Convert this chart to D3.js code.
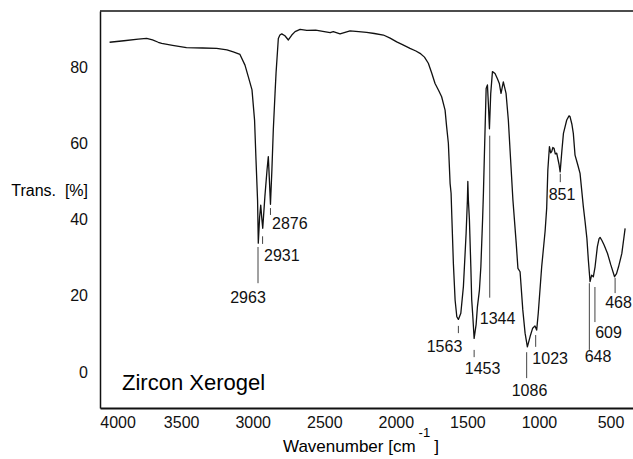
<!DOCTYPE html>
<html>
<head>
<meta charset="utf-8">
<script src="https://cdn.jsdelivr.net/npm/d3@7"></script>
<style>
  body { margin: 0; background: #fff; }
  svg { display: block; font-family: "Liberation Sans", Arial, sans-serif; }
  .axis text { font-size: 16px; fill: #111; }
  .axis path { stroke: #111; }
  .peak text { font-size: 16px; fill: #111; }
</style>
</head>
<body>
<div id="chart"></div>
<script>
// IR spectrum, zircon xerogel
const wavenumbers = [
  4000, 3900, 3800, 3741, 3700, 3660, 3636, 3560, 3463, 3350, 3252, 3180, 3136, 3089, 3054, 3031,
  3005, 2987, 2977, 2966, 2961, 2952, 2944, 2937, 2930, 2915, 2900, 2891, 2883, 2876, 2866, 2856,
  2844, 2837, 2821, 2810, 2797, 2775, 2751, 2727, 2704, 2669, 2622, 2560, 2500, 2459, 2437, 2390,
  2320, 2260, 2204, 2150, 2087, 2040, 1994, 1950, 1901, 1860, 1831, 1800, 1773, 1750, 1726, 1700,
  1680, 1656, 1645, 1633, 1621, 1614, 1609, 1598, 1586, 1574, 1563, 1546, 1528, 1516, 1509, 1500,
  1497, 1493, 1486, 1476, 1470, 1462, 1453, 1439, 1430, 1416, 1406, 1394, 1388, 1381, 1369, 1360,
  1353, 1346, 1337, 1325, 1307, 1291, 1277, 1265, 1249, 1230, 1214, 1198, 1182, 1159, 1147, 1132,
  1113, 1097, 1081, 1062, 1044, 1028, 1016, 1005, 981, 957, 946, 938, 927, 918, 911, 903,
  895, 886, 876, 860, 852, 840, 829, 806, 790, 783, 770, 760, 748, 730, 713, 690,
  678, 665, 655, 643, 632, 620, 608, 592, 580, 573, 560, 545, 521, 498, 472, 458,
  444, 421, 398
];
const transmittance = [
  86.5, 86.9, 87.3, 87.5, 87.1, 86.5, 86.2, 85.7, 85.1, 85.0, 84.9, 84.5, 84.0, 83.3, 80.5, 77.5,
  74.0, 66.0, 55.6, 45.0, 33.8, 40.5, 43.8, 40.5, 37.7, 46.0, 53.0, 56.5, 50.0, 44.0, 53.0, 63.7,
  73.1, 78.4, 87.5, 88.4, 88.7, 88.2, 87.1, 88.4, 89.3, 89.9, 89.6, 89.7, 89.3, 89.0, 89.3, 88.7,
  89.5, 89.3, 89.1, 88.8, 88.4, 87.6, 86.6, 85.8, 84.9, 84.2, 83.6, 82.6, 81.0, 78.5, 75.7, 73.8,
  72.2, 68.7, 64.3, 60.0, 49.5, 46.9, 41.0, 28.5, 18.9, 14.5, 13.8, 15.4, 22.4, 31.2, 36.4, 45.1,
  50.0, 45.0, 40.0, 27.6, 19.0, 14.5, 8.8, 12.5, 17.1, 21.5, 27.6, 39.9, 47.0, 57.4, 74.4, 75.3,
  70.0, 63.8, 73.1, 78.8, 78.3, 77.0, 75.7, 73.1, 76.1, 73.1, 66.1, 55.6, 45.1, 33.8, 27.2, 26.3,
  16.3, 10.2, 6.6, 9.3, 11.5, 12.1, 11.0, 15.4, 27.6, 37.0, 43.0, 53.0, 59.1, 57.5, 57.8, 58.9,
  58.7, 57.2, 57.4, 54.5, 52.5, 58.0, 62.6, 66.1, 67.2, 67.0, 65.0, 62.6, 56.9, 54.5, 52.1, 43.4,
  39.5, 35.0, 29.4, 23.7, 25.4, 25.0, 27.6, 32.9, 35.0, 35.3, 34.5, 33.3, 31.1, 28.1, 25.0, 25.8,
  27.6, 31.1, 37.7
];

const xTicks = [4000, 3500, 3000, 2500, 2000, 1500, 1000, 500];
const yTicks = [0, 20, 40, 60, 80];

// labelled bands
const peakLabels = [2963, 2931, 2876, 1563, 1453, 1344, 1086, 1023, 851, 648, 609, 468];

// annotation layout: marker line from/to (in % T), label anchor (wavenumber, % T baseline)
const peakLayout = [
  { from: 32.8, to: 23.3, tx: 3033, ty: 18.0, anchor: 'middle' },
  { from: 35.6, to: 33.6, tx: 2921, ty: 29.2, anchor: 'start' },
  { from: 43.0, to: 41.2, tx: 2865, ty: 37.4, anchor: 'start' },
  { from: 12.1, to: 10.2, tx: 1660, ty: 5.2, anchor: 'middle' },
  { from: 5.8, to: 3.9, tx: 1394, ty: -0.4, anchor: 'middle' },
  { from: 62.0, to: 19.5, tx: 1289, ty: 12.5, anchor: 'middle' },
  { from: 5.2, to: -1.6, tx: 1066, ty: -6.2, anchor: 'middle' },
  { from: 9.7, to: 6.6, tx: 922, ty: 2.2, anchor: 'middle' },
  { from: 52.0, to: 49.8, tx: 839, ty: 45.0, anchor: 'middle' },
  { from: 23.3, to: 5.8, tx: 587, ty: 2.5, anchor: 'middle' },
  { from: 22.3, to: 13.1, tx: 514, ty: 9.0, anchor: 'middle' },
  { from: 24.7, to: 20.7, tx: 444, ty: 16.9, anchor: 'middle' }
];

const width = 633, height = 459;
const margin = { top: 11, right: 0, bottom: 51, left: 100 };

const svg = d3.select('#chart').append('svg')
  .attr('width', width)
  .attr('height', height);

// scales (wavenumber runs right to left)
const x = d3.scaleLinear([4067, 343], [margin.left, width - margin.right]);
const y = d3.scaleLinear([-9.44, 94.7], [height - margin.bottom, margin.top]);

// axes
const axisX = svg.append('g')
  .attr('class', 'axis')
  .attr('transform', `translate(0, ${height - margin.bottom})`)
  .call(d3.axisBottom(x).tickValues(xTicks).tickFormat(d3.format('d'))
    .tickSize(0).tickPadding(9).tickSizeOuter(0));
axisX.select('.domain').attr('stroke-width', 2);
// the 4000 label sits a little inward in the original
axisX.selectAll('.tick').filter(d => d === 4000).select('text').attr('dx', 8);

const axisY = svg.append('g')
  .attr('class', 'axis')
  .attr('transform', `translate(${margin.left}, 0)`)
  .call(d3.axisLeft(y).tickValues(yTicks).tickSize(0).tickPadding(12).tickSizeOuter(0));
axisY.select('.domain').attr('stroke-width', 1.5);

// top frame line
svg.append('line')
  .attr('x1', margin.left).attr('x2', width)
  .attr('y1', margin.top).attr('y2', margin.top)
  .attr('stroke', '#111').attr('stroke-width', 1.5);

// spectrum
const points = wavenumbers.map((w, i) => [w, transmittance[i]]);
const line = d3.line()
  .x(d => x(d[0]))
  .y(d => y(d[1]));

svg.append('path')
  .datum(points)
  .attr('fill', 'none')
  .attr('stroke', '#111')
  .attr('stroke-width', 1.3)
  .attr('stroke-linejoin', 'round')
  .attr('d', line);

// peak markers
const peaks = svg.append('g').attr('class', 'peak')
  .selectAll('g')
  .data(peakLabels.map((p, i) => ({ p, ...peakLayout[i] })))
  .join('g');

peaks.append('line')
  .attr('x1', d => x(d.p)).attr('x2', d => x(d.p))
  .attr('y1', d => y(d.from)).attr('y2', d => y(d.to))
  .attr('stroke', '#444')
  .attr('stroke-width', 1);

peaks.append('text')
  .attr('x', d => x(d.tx))
  .attr('y', d => y(d.ty))
  .attr('text-anchor', d => d.anchor)
  .text(d => d.p);

// titles
svg.append('text')
  .attr('x', 88).attr('y', 196)
  .attr('text-anchor', 'end')
  .style('font-size', '16px')
  .attr('xml:space', 'preserve')
  .text('Trans.  [%]');

const title = svg.append('text')
  .attr('x', 283).attr('y', 452)
  .style('font-size', '17px');
title.append('tspan').text('Wavenumber [cm');
title.append('tspan').attr('dx', 3).attr('dy', -15).style('font-size', '13px').text('-1');
title.append('tspan').attr('dx', 4).attr('dy', 15).text(']');

svg.append('text')
  .attr('x', 122).attr('y', 390)
  .style('font-size', '22px')
  .text('Zircon Xerogel');
</script>
</body>
</html>
